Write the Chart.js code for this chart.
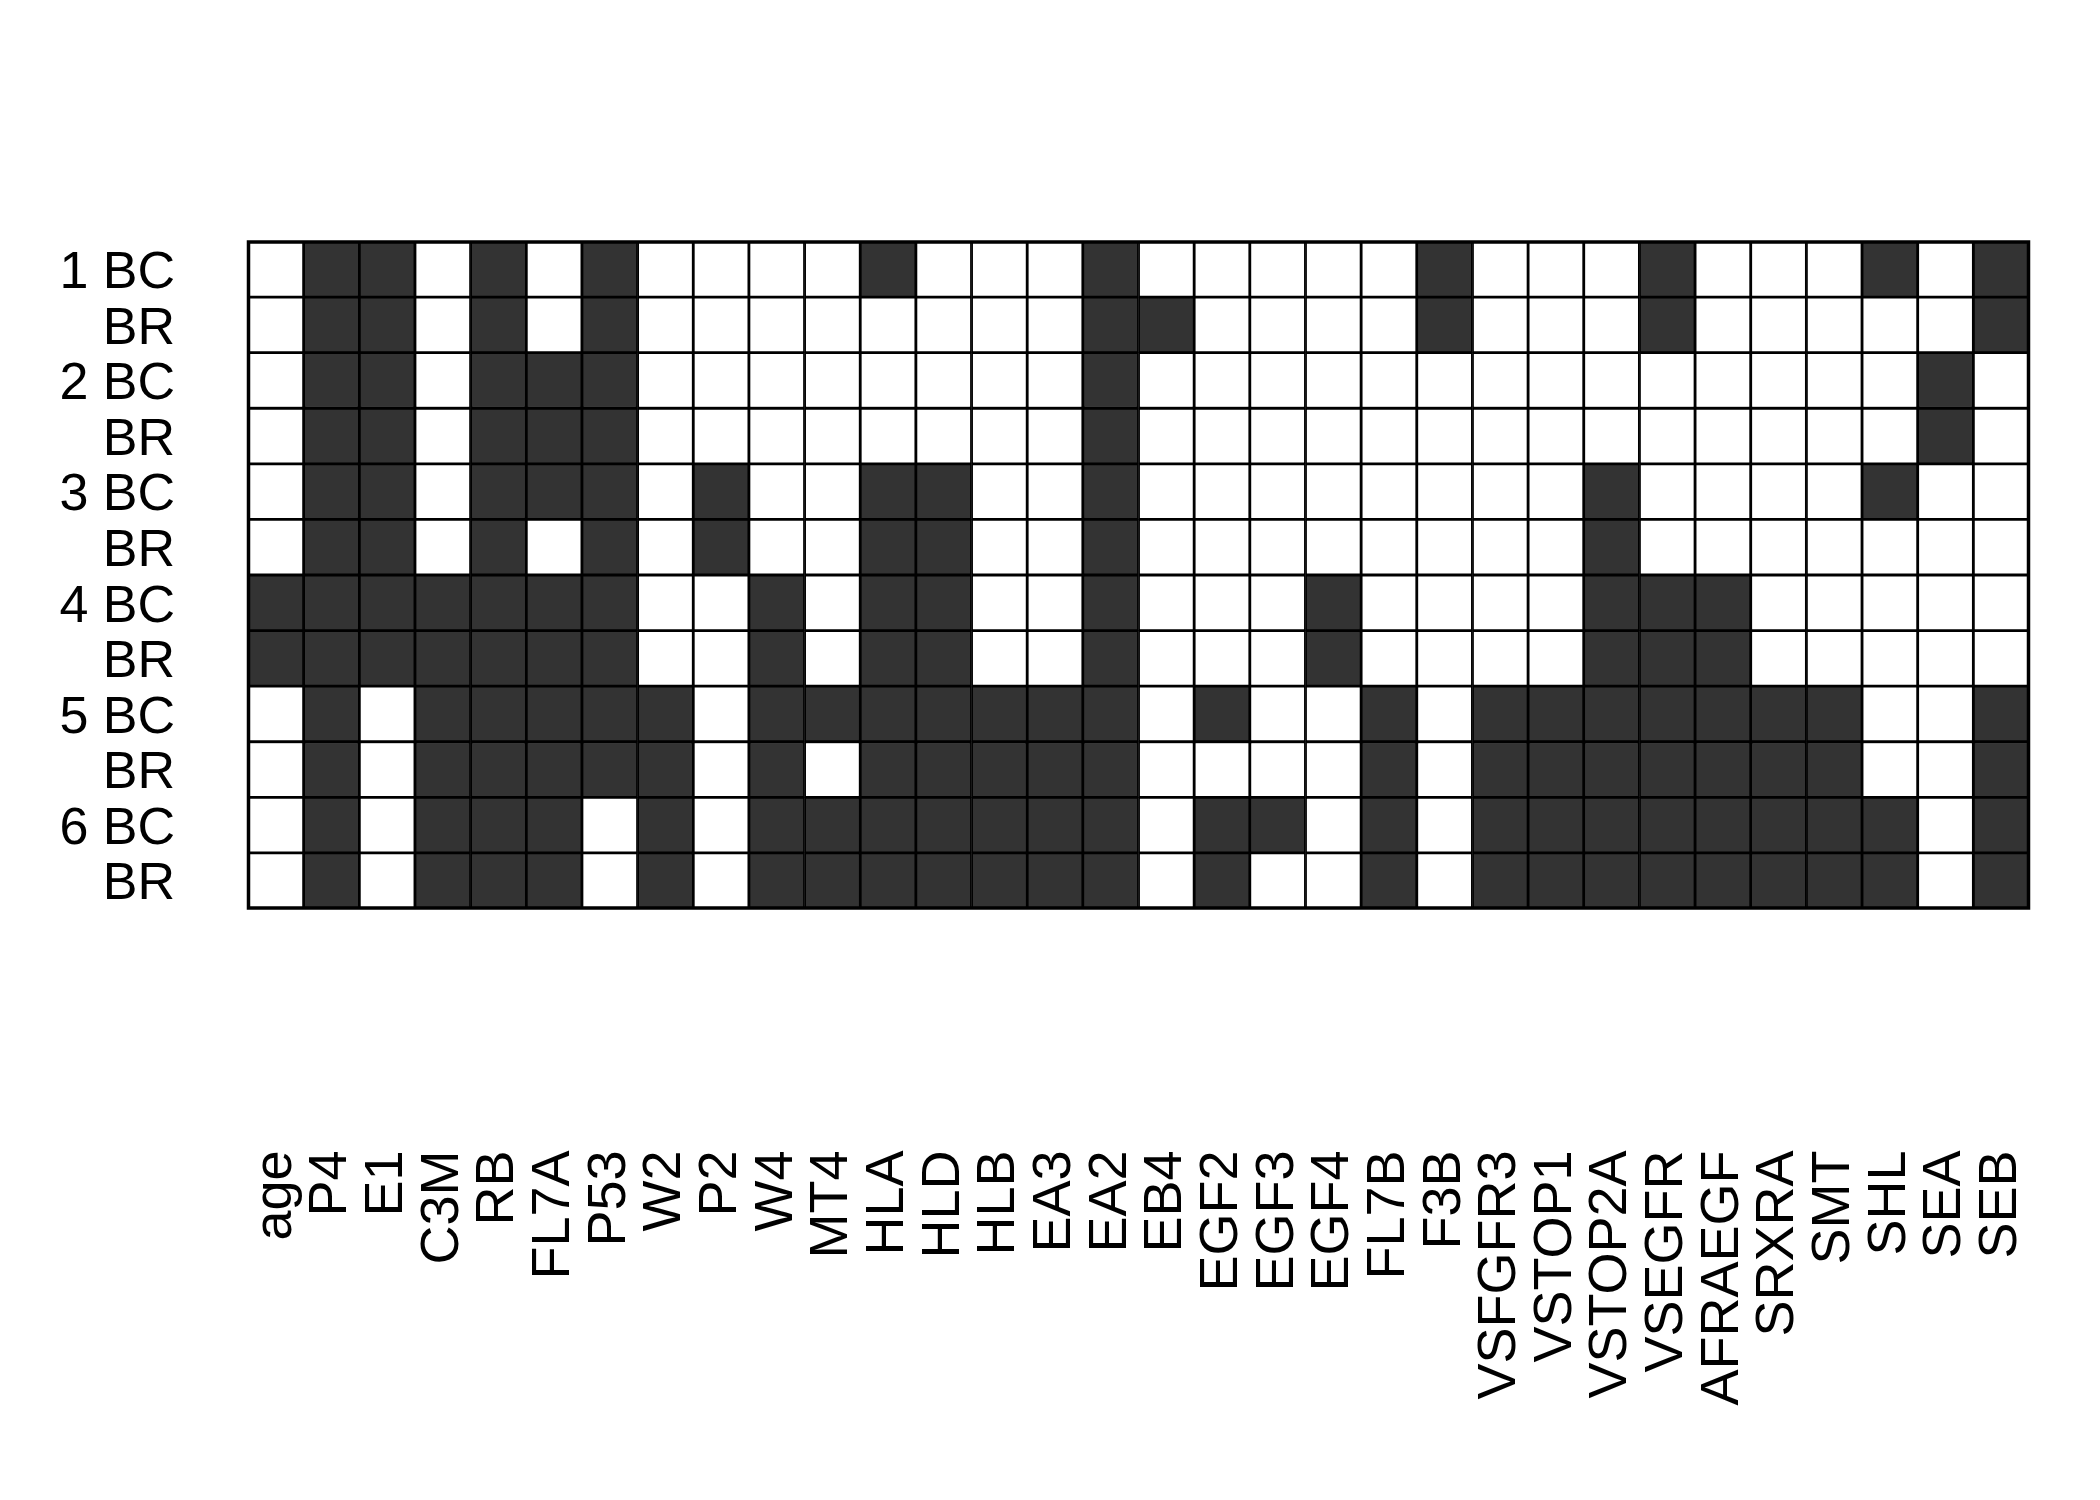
<!DOCTYPE html>
<html>
<head>
<meta charset="utf-8">
<script src="https://cdn.jsdelivr.net/npm/chart.js@4.4.1/dist/chart.umd.min.js"></script>
<style>
  html, body { margin: 0; padding: 0; background: #ffffff; }
  #wrap { width: 2100px; height: 1500px; }
</style>
</head>
<body>
<div id="wrap"><canvas id="c" width="2100" height="1500"></canvas></div>
<script>
const columnLabels = ["age","P4","E1","C3M","RB","FL7A","P53","W2","P2","W4","MT4","HLA","HLD","HLB","EA3","EA2",
  "EB4","EGF2","EGF3","EGF4","FL7B","F3B","VSFGFR3","VSTOP1","VSTOP2A","VSEGFR","AFRAEGF","SRXRA","SMT","SHL","SEA","SEB"];
const rowLabels = ["1 BC","BR","2 BC","BR","3 BC","BR","4 BC","BR","5 BC","BR","6 BC","BR"];

// 1 = dark cell, 0 = white cell
const row1BC = [0,1,1,0,1,0,1,0,0,0,0,1,0,0,0,1, 0,0,0,0,0,1,0,0,0,1,0,0,0,1,0,1];
const row1BR = [0,1,1,0,1,0,1,0,0,0,0,0,0,0,0,1, 1,0,0,0,0,1,0,0,0,1,0,0,0,0,0,1];
const row2BC = [0,1,1,0,1,1,1,0,0,0,0,0,0,0,0,1, 0,0,0,0,0,0,0,0,0,0,0,0,0,0,1,0];
const row2BR = [0,1,1,0,1,1,1,0,0,0,0,0,0,0,0,1, 0,0,0,0,0,0,0,0,0,0,0,0,0,0,1,0];
const row3BC = [0,1,1,0,1,1,1,0,1,0,0,1,1,0,0,1, 0,0,0,0,0,0,0,0,1,0,0,0,0,1,0,0];
const row3BR = [0,1,1,0,1,0,1,0,1,0,0,1,1,0,0,1, 0,0,0,0,0,0,0,0,1,0,0,0,0,0,0,0];
const row4BC = [1,1,1,1,1,1,1,0,0,1,0,1,1,0,0,1, 0,0,0,1,0,0,0,0,1,1,1,0,0,0,0,0];
const row4BR = [1,1,1,1,1,1,1,0,0,1,0,1,1,0,0,1, 0,0,0,1,0,0,0,0,1,1,1,0,0,0,0,0];
const row5BC = [0,1,0,1,1,1,1,1,0,1,1,1,1,1,1,1, 0,1,0,0,1,0,1,1,1,1,1,1,1,0,0,1];
const row5BR = [0,1,0,1,1,1,1,1,0,1,0,1,1,1,1,1, 0,0,0,0,1,0,1,1,1,1,1,1,1,0,0,1];
const row6BC = [0,1,0,1,1,1,0,1,0,1,1,1,1,1,1,1, 0,1,1,0,1,0,1,1,1,1,1,1,1,1,0,1];
const row6BR = [0,1,0,1,1,1,0,1,0,1,1,1,1,1,1,1, 0,1,0,0,1,0,1,1,1,1,1,1,1,1,0,1];

const rows = [row1BC,row1BR,row2BC,row2BR,row3BC,row3BR,row4BC,row4BR,row5BC,row5BR,row6BC,row6BR];

const DARK = '#333333';
const FONT = '"Liberation Sans", Arial, Helvetica, sans-serif';

const datasets = rows.map((vals, r) => ({
  label: rowLabels[r],
  data: columnLabels.map(() => [r, r + 1]),
  backgroundColor: vals.map(v => v ? DARK : '#ffffff'),
  borderColor: '#000000',
  borderWidth: 1.75,
  borderSkipped: false,
  barPercentage: 1.0,
  categoryPercentage: 1.0,
  grouped: false
}));

const frame = {
  id: 'frame',
  afterDatasetsDraw(chart) {
    const a = chart.chartArea, ctx = chart.ctx;
    ctx.save();
    ctx.strokeStyle = '#000000';
    ctx.lineWidth = 3.5;
    ctx.strokeRect(a.left + 0.5, a.top + 0.5, a.right - a.left - 1, a.bottom - a.top - 1);
    ctx.restore();
  }
};

new Chart(document.getElementById('c'), {
  type: 'bar',
  data: { labels: columnLabels, datasets },
  plugins: [frame],
  options: {
    responsive: false,
    animation: false,
    layout: { padding: { top: 241.5, right: 71, left: 0, bottom: 0 } },
    plugins: { legend: { display: false }, tooltip: { enabled: false } },
    scales: {
      x: {
        type: 'category',
        grid: { display: false, drawTicks: false },
        border: { display: false },
        ticks: {
          color: '#000000',
          font: { family: FONT, size: 54 },
          minRotation: 90, maxRotation: 90,
          autoSkip: false,
          padding: 242
        },
        afterFit(scale) {
          scale.height = 1500 - 908.5;
          scale.paddingLeft = 0;
          scale.paddingRight = 0;
        }
      },
      y: {
        type: 'linear',
        min: 0, max: 12,
        reverse: true,
        grid: { display: false, drawTicks: false },
        border: { display: false },
        afterBuildTicks(scale) {
          scale.ticks = rowLabels.map((_, i) => ({ value: i + 0.58 }));
        },
        ticks: {
          color: '#000000',
          font: { family: FONT, size: 52 },
          padding: 73,
          autoSkip: false,
          callback(value, index) { return rowLabels[index]; }
        },
        afterFit(scale) {
          scale.width = 248;
          scale.paddingTop = 0;
          scale.paddingBottom = 0;
        }
      }
    }
  }
});
</script>
</body>
</html>
